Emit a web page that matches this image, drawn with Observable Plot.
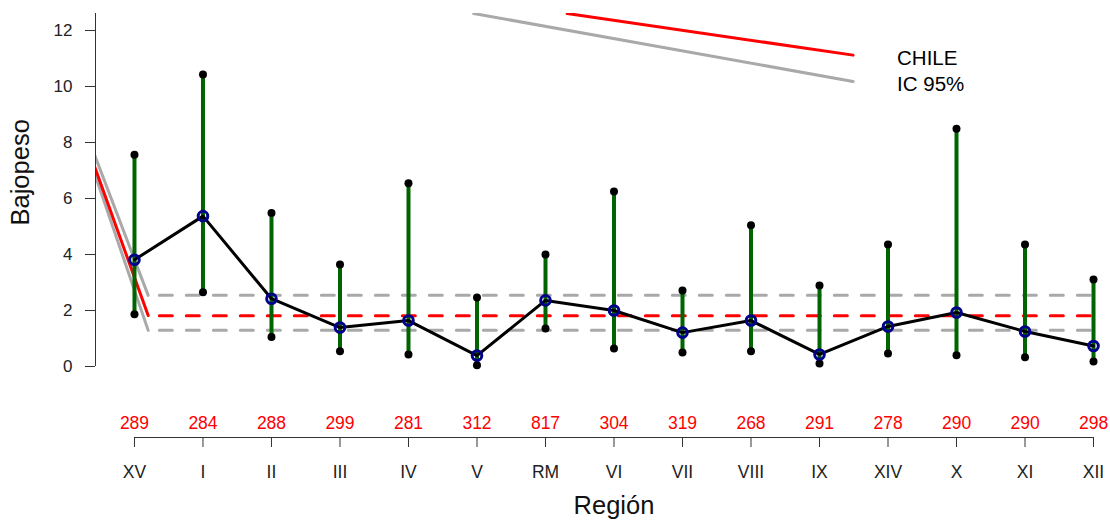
<!DOCTYPE html>
<html>
<head>
<meta charset="utf-8">
<script src="https://cdn.jsdelivr.net/npm/d3@7"></script>
<script src="https://cdn.jsdelivr.net/npm/@observablehq/plot@0.6"></script>
<style>
  html, body { margin: 0; padding: 0; background: #fff; }
  #chart { width: 1110px; height: 524px; overflow: hidden; }
</style>
</head>
<body>
<div id="chart"></div>
<script>
// ---- data ----
const regions = ["XV","I","II","III","IV","V","RM","VI","VII","VIII","IX","XIV","X","XI","XII"];
const sampleN = [289,284,288,299,281,312,817,304,319,268,291,278,290,290,298];
const meanPct = [3.81,5.37,2.42,1.39,1.64,0.39,2.36,2.00,1.21,1.64,0.43,1.43,1.93,1.25,0.73];
const lowerCI = [1.87,2.65,1.05,0.54,0.43,0.04,1.36,0.64,0.50,0.54,0.11,0.46,0.40,0.33,0.18];
const upperCI = [7.56,10.43,5.48,3.64,6.54,2.46,4.00,6.25,2.71,5.04,2.89,4.36,8.49,4.36,3.11];

const chileMean = 1.81, chileLow = 1.29, chileHigh = 2.54;
const chileSpan = [0.37, 14];           // extent of the national reference lines (region index units)

// stray reference/legend traces (in data units, clipped by the plot region)
const chileTraceLeft = [{x:-0.65, y:7.60}, {x:0.20, y:1.82}];
const icHighTraceLeft = [{x:-0.65, y:7.99}, {x:0.20, y:2.54}];
const icLowTraceLeft = [{x:-0.65, y:7.38}, {x:0.20, y:1.29}];
const chileTraceTop = [{x:6.317, y:12.607}, {x:10.49, y:11.12}];
const icTraceTop = [{x:4.953, y:12.607}, {x:10.49, y:10.18}];
const legendLabels = ["CHILE", "IC 95%"];

const yTicks = [0,2,4,6,8,10,12];
const xDomain = [-0.569, 14.248];
const yDomain = [-2.536, 12.607];

// ---- table ----
const idx = d3.range(regions.length);
const rows = idx.map(i => ({i, region: regions[i], n: sampleN[i], mean: meanPct[i], lo: lowerCI[i], hi: upperCI[i]}));
const legendRows = [
  {label: legendLabels[0], ...chileTraceTop[chileTraceTop.length-1]},
  {label: legendLabels[1], ...icTraceTop[icTraceTop.length-1]}
];

const font = "'Liberation Sans', Arial, Helvetica, sans-serif";
const grey = "#A9A9A9";

const chart = Plot.plot({
  width: 1110,
  height: 524,
  marginLeft: 95,
  marginRight: 0,
  marginTop: 13,
  marginBottom: 87,
  style: {fontFamily: font, background: "#fff", color: "#000"},
  x: {type: "linear", domain: xDomain},
  y: {type: "linear", domain: yDomain},
  marks: [
    // stray lines
    Plot.line(icHighTraceLeft, {x: "x", y: "y", stroke: grey, strokeWidth: 3, clip: true}),
    Plot.line(icLowTraceLeft, {x: "x", y: "y", stroke: grey, strokeWidth: 3, clip: true}),
    Plot.line(chileTraceLeft, {x: "x", y: "y", stroke: "red", strokeWidth: 3, clip: true}),
    Plot.line(icTraceTop, {x: "x", y: "y", stroke: grey, strokeWidth: 3, clip: true}),
    Plot.line(chileTraceTop, {x: "x", y: "y", stroke: "red", strokeWidth: 3, clip: true}),
    // national reference
    Plot.ruleY([chileHigh, chileLow], {x1: chileSpan[0], x2: chileSpan[1], stroke: grey, strokeWidth: 3, strokeDasharray: "13 14", strokeLinecap: "round"}),
    Plot.ruleY([chileMean], {x1: chileSpan[0], x2: chileSpan[1], stroke: "red", strokeWidth: 3, strokeDasharray: "13 14", strokeLinecap: "round"}),
    // legend text
    Plot.text(legendRows, {x: "x", y: "y", text: "label", dx: 44, dy: 3, textAnchor: "start", fontSize: 20.5, fill: "#000"}),
    // CIs
    Plot.ruleX(rows, {x: "i", y1: "lo", y2: "hi", stroke: "#006400", strokeWidth: 4}),
    Plot.line(rows, {x: "i", y: "mean", stroke: "#000", strokeWidth: 3}),
    Plot.dot(rows, {x: "i", y: "lo", r: 4, fill: "#000"}),
    Plot.dot(rows, {x: "i", y: "hi", r: 4, fill: "#000"}),
    Plot.dot(rows, {x: "i", y: "mean", r: 4.8, stroke: "#00008B", strokeWidth: 3, fill: "none"}),
    // sample sizes
    Plot.text(rows, {x: "i", y: () => -2, text: d => String(d.n), fill: "red", fontSize: 17.5, dy: 1}),
    // axes
    Plot.ruleX([xDomain[0]], {y1: 0, y2: yDomain[1], stroke: "#333", strokeWidth: 1}),
    Plot.axisY({ticks: yTicks, tickSize: 10, tickPadding: 13, fontSize: 17, label: null, stroke: "#333", color: "#222"}),
    Plot.ruleY([yDomain[0]], {x1: 0, x2: idx[idx.length-1], stroke: "#333", strokeWidth: 1}),
    Plot.axisX({ticks: idx, tickFormat: i => regions[i], tickSize: 10, tickPadding: 18, fontSize: 17.5, label: null, stroke: "#333", color: "#222"}),
    Plot.text(["Bajopeso"], {frameAnchor: "left", rotate: -90, dx: -75, fontSize: 25.5, fill: "#111"}),
    Plot.text(["Región"], {x: () => (idx[0] + idx[idx.length-1]) / 2, frameAnchor: "bottom", dy: 76, fontSize: 25.5, fill: "#111"})
  ]
});
document.getElementById("chart").appendChild(chart);
</script>
</body>
</html>
